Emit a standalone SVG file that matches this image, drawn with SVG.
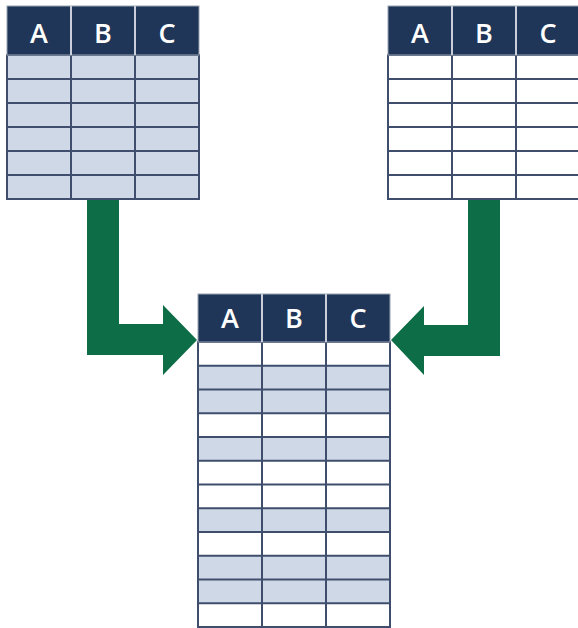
<svg xmlns="http://www.w3.org/2000/svg" width="578" height="628" viewBox="0 0 578 628">
<style>
.hdr{fill:#1F3658;stroke:#9AA3B3;stroke-width:1}
.hdiv{stroke:#C9CED8;stroke-width:2}
.blue{fill:#CFD8E6}
.white{fill:#FFFFFF}
.grid{stroke:#3E4E6C;stroke-width:2;fill:none}
.lbl{font-family:"Open Sans","Noto Sans",sans-serif;font-weight:600;font-size:27px;fill:#FFFFFF;text-anchor:middle}
.arrow{fill:#0C6D47}
</style>
<rect width="578" height="628" fill="#FFFFFF"/>
<g id="connectors">
<path class="arrow" d="M87,198 H119 V324 H163 V305 L197,340 L163,375 V355 H87 Z"/>
<path class="arrow" d="M500,198 H468 V325 H424 V306 L391,340 L424,375 V356 H500 Z"/>
</g>
<g id="table-top-left">
<rect class="blue" x="7" y="55" width="192" height="144"/>
<g class="grid">
<line x1="7" y1="79" x2="199" y2="79"/>
<line x1="7" y1="103" x2="199" y2="103"/>
<line x1="7" y1="127" x2="199" y2="127"/>
<line x1="7" y1="151" x2="199" y2="151"/>
<line x1="7" y1="175" x2="199" y2="175"/>
<line x1="71" y1="55" x2="71" y2="199"/>
<line x1="135" y1="55" x2="135" y2="199"/>
<rect x="7" y="55" width="192" height="144"/>
</g>
<rect class="hdr" x="7" y="6" width="192" height="49"/>
<line class="hdiv" x1="71" y1="6" x2="71" y2="55"/>
<line class="hdiv" x1="135" y1="6" x2="135" y2="55"/>
<text class="lbl" x="39" y="43">A</text>
<text class="lbl" x="103" y="43">B</text>
<text class="lbl" x="167" y="43">C</text>
</g>
<g id="table-top-right">
<rect class="white" x="388" y="55" width="192" height="144"/>
<g class="grid">
<line x1="388" y1="79" x2="580" y2="79"/>
<line x1="388" y1="103" x2="580" y2="103"/>
<line x1="388" y1="127" x2="580" y2="127"/>
<line x1="388" y1="151" x2="580" y2="151"/>
<line x1="388" y1="175" x2="580" y2="175"/>
<line x1="452" y1="55" x2="452" y2="199"/>
<line x1="516" y1="55" x2="516" y2="199"/>
<rect x="388" y="55" width="192" height="144"/>
</g>
<rect class="hdr" x="388" y="6" width="192" height="49"/>
<line class="hdiv" x1="452" y1="6" x2="452" y2="55"/>
<line class="hdiv" x1="516" y1="6" x2="516" y2="55"/>
<text class="lbl" x="420" y="43">A</text>
<text class="lbl" x="484" y="43">B</text>
<text class="lbl" x="548" y="43">C</text>
</g>
<g id="table-bottom">
<rect class="white" x="198" y="342" width="192" height="285"/>
<rect class="blue" x="198" y="365.75" width="192" height="47.5"/>
<rect class="blue" x="198" y="437" width="192" height="23.75"/>
<rect class="blue" x="198" y="508.25" width="192" height="23.75"/>
<rect class="blue" x="198" y="555.75" width="192" height="47.5"/>
<g class="grid">
<line x1="198" y1="365.75" x2="390" y2="365.75"/>
<line x1="198" y1="389.5" x2="390" y2="389.5"/>
<line x1="198" y1="413.25" x2="390" y2="413.25"/>
<line x1="198" y1="437" x2="390" y2="437"/>
<line x1="198" y1="460.75" x2="390" y2="460.75"/>
<line x1="198" y1="484.5" x2="390" y2="484.5"/>
<line x1="198" y1="508.25" x2="390" y2="508.25"/>
<line x1="198" y1="532" x2="390" y2="532"/>
<line x1="198" y1="555.75" x2="390" y2="555.75"/>
<line x1="198" y1="579.5" x2="390" y2="579.5"/>
<line x1="198" y1="603.25" x2="390" y2="603.25"/>
<line x1="262" y1="342" x2="262" y2="627"/>
<line x1="326" y1="342" x2="326" y2="627"/>
<rect x="198" y="342" width="192" height="285"/>
</g>
<rect class="hdr" x="198" y="294" width="192" height="48"/>
<line class="hdiv" x1="262" y1="294" x2="262" y2="342"/>
<line class="hdiv" x1="326" y1="294" x2="326" y2="342"/>
<text class="lbl" x="230" y="328">A</text>
<text class="lbl" x="294" y="328">B</text>
<text class="lbl" x="358" y="328">C</text>
</g>
</svg>
